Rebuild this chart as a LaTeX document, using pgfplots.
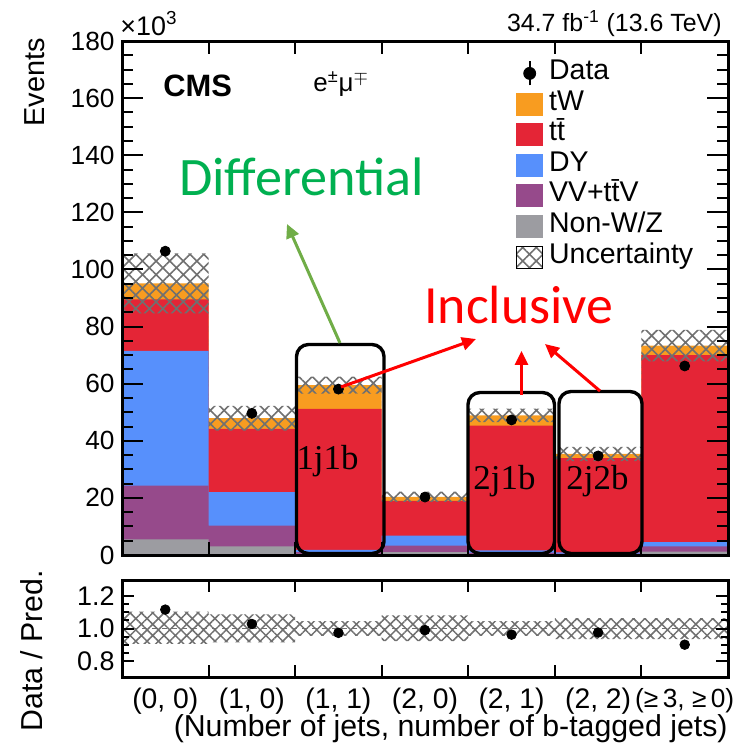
\documentclass[border=0pt]{standalone}
\usepackage{pgfplots}
\pgfplotsset{compat=1.18}
\usetikzlibrary{patterns.meta,arrows.meta}
\usepackage{fontspec}
\setmainfont{Liberation Sans}
\newfontfamily\carlito{Carlito}
\newfontfamily\libserif{Liberation Serif}
\definecolor{cTW}{HTML}{F89C20}
\definecolor{cTT}{HTML}{E42536}
\definecolor{cDY}{HTML}{5790FC}
\definecolor{cVV}{HTML}{964A8B}
\definecolor{cNW}{HTML}{9C9CA1}
\definecolor{cHatch}{HTML}{707070}
\definecolor{cDiffT}{HTML}{00B050}
\definecolor{cDiffA}{HTML}{70AD47}
\tikzset{hatchpat/.style={pattern={Hatch[angle=45,distance=4.8bp,line width=0.8bp]}, pattern color=cHatch},
         hatchpatr/.style={pattern={Hatch[angle=45,distance=4bp,line width=0.75bp]}, pattern color=cHatch}}
\begin{document}
\begin{tikzpicture}
\useasboundingbox (0,0) rectangle (368.5bp,-371.5bp);
% ---------------- main panel ----------------
\begin{axis}[
  at={(61bp,-277.5bp)}, anchor=south west, scale only axis,
  width=303bp, height=257bp,
  xmin=0, xmax=7, ymin=0, ymax=180,
  axis on top,
  axis line style={line width=1.5bp},
  tick style={black, line width=1bp},
  tick align=inside,
  xtick=\empty,
  extra x ticks={1,2,3,4,5,6}, extra x tick labels={},
  extra x tick style={major tick length=6.5bp},
  ytick={0,20,...,180}, minor y tick num=3,
  major tick length=10.5bp, minor tick length=5.5bp,
  /pgf/number format/assume math mode=true,
  tick label style={font=\fontsize{13.2}{14}\selectfont},
  yticklabel style={inner sep=0pt, xshift=-3.5bp},
  label style={font=\fontsize{14.5}{16}\selectfont},
  ylabel={Events},
  ylabel style={at={(axis description cs:-0.127,1.006)}, anchor=south east, inner sep=0pt},
  legend style={at={(rel axis cs:0.650,0.9675)}, anchor=north west, draw=none, fill=none,
    font=\fontsize{14.3}{15}\selectfont, inner sep=0pt, column sep=3bp, row sep=0pt,
    nodes={inner sep=0pt, text height=10.7bp, text depth=4.6bp}},
  legend cell align=left,
]
\addlegendimage{legend image code/.code={\draw[black, line width=1bp] (6.5bp,-6bp)--(6.5bp,6bp); \fill[black] (6.5bp,0bp) circle (3bp);}}
\addlegendentry{Data}
\addlegendimage{legend image code/.code={\fill[cTW] (0bp,-5.5bp) rectangle (13bp,5.5bp);}}
\addlegendentry{tW}
\addlegendimage{legend image code/.code={\fill[cTT] (0bp,-5.5bp) rectangle (13bp,5.5bp);}}
\addlegendentry{t\={t}}
\addlegendimage{legend image code/.code={\fill[cDY] (0bp,-5.5bp) rectangle (13bp,5.5bp);}}
\addlegendentry{DY}
\addlegendimage{legend image code/.code={\fill[cVV] (0bp,-5.5bp) rectangle (13bp,5.5bp);}}
\addlegendentry{VV+t\={t}V}
\addlegendimage{legend image code/.code={\fill[cNW] (0bp,-5.5bp) rectangle (13bp,5.5bp);}}
\addlegendentry{Non-W/Z}
\addlegendimage{legend image code/.code={\fill[hatchpat] (0bp,-5.5bp) rectangle (13bp,5.5bp);}}
\addlegendentry{Uncertainty}
% cumulative stacks (tops), per bin
\addplot[const plot, fill=cTW, draw=none, forget plot] coordinates {(0,95.1)(1,47.9)(2,59.5)(3,20.4)(4,48.9)(5,35.4)(6,73.3)(7,73.3)} \closedcycle;
\addplot[const plot, fill=cTT, draw=none, forget plot] coordinates {(0,89.5)(1,44.2)(2,51.2)(3,19.0)(4,45.3)(5,33.9)(6,70.0)(7,70.0)} \closedcycle;
\addplot[const plot, fill=cDY, draw=none, forget plot] coordinates {(0,71.5)(1,22.0)(2,1.8)(3,6.8)(4,1.6)(5,0.9)(6,4.5)(7,4.5)} \closedcycle;
\addplot[const plot, fill=cVV, draw=none, forget plot] coordinates {(0,24.3)(1,10.3)(2,1.0)(3,3.3)(4,0.8)(5,0.5)(6,3.0)(7,3.0)} \closedcycle;
\addplot[const plot, fill=cNW, draw=none, forget plot] coordinates {(0,5.5)(1,3.0)(2,0.4)(3,1.0)(4,0.3)(5,0.2)(6,1.2)(7,1.2)} \closedcycle;
% uncertainty band (upper edge left to right, lower edge right to left)
\addplot[hatchpat, draw=none, forget plot] coordinates {(0,105.6)(1,105.6)(1,52.2)(2,52.2)(2,62.5)(3,62.5)(3,22.2)(4,22.2)(4,51.3)(5,51.3)(5,37.9)(6,37.9)(6,78.8)(7,78.8)
 (7,67.8)(6,67.8)(6,32.9)(5,32.9)(5,46.5)(4,46.5)(4,18.6)(3,18.6)(3,56.5)(2,56.5)(2,43.6)(1,43.6)(1,84.6)(0,84.6)} -- cycle;
% data
\addplot[only marks, mark=*, mark size=2.5bp, black, forget plot] coordinates {(0.5,106.4)(1.5,49.6)(2.5,58.1)(3.5,20.3)(4.5,47.3)(5.5,34.7)(6.5,66.2)};
\end{axis}
% ---------------- ratio panel ----------------
\begin{axis}[
  at={(61bp,-338.5bp)}, anchor=south west, scale only axis,
  width=303bp, height=48.5bp,
  xmin=0, xmax=7, ymin=0.7, ymax=1.3,
  axis on top,
  axis line style={line width=1.5bp},
  tick style={black, line width=1bp},
  tick align=inside,
  xtick={1,2,3,4,5,6}, xticklabels={},
  extra x ticks={0.5,1.5,2.5,3.5,4.5,5.5,6.5},
  extra x tick labels={{(0, 0)},{(1, 0)},{(1, 1)},{(2, 0)},{(2, 1)},{(2, 2)},{\fontsize{13.2}{14}\selectfont(≥\,3, ≥\,0)}},
  extra x tick style={major tick length=0pt},
  ytick={0.8,1.0,1.2}, yticklabels={0.8,1.0,1.2}, minor y tick num=3,
  major tick length=5.8bp, minor tick length=3.3bp,
  tick label style={font=\fontsize{14.2}{15}\selectfont},
  xticklabel style={inner sep=0pt, yshift=-5.5bp},
  yticklabel style={inner sep=0pt, xshift=-3.5bp, font=\fontsize{13.5}{15}\selectfont},
  label style={font=\fontsize{15.2}{17}\selectfont},
  xlabel={(Number of jets, number of b-tagged jets)},
  xlabel style={at={(axis description cs:1,-0.61)}, anchor=base east, inner sep=0pt},
  ylabel={Data / Pred.},
  ylabel style={at={(axis description cs:-0.13,0.27)}, anchor=south, inner sep=0pt},
]
\addplot[hatchpatr, draw=none] coordinates {(0,1.105)(1,1.105)(1,1.088)(2,1.088)(2,1.045)(3,1.045)(3,1.082)(4,1.082)(4,1.045)(5,1.045)(5,1.065)(6,1.065)(6,1.065)(7,1.065)
 (7,0.935)(6,0.935)(6,0.935)(5,0.935)(5,0.955)(4,0.955)(4,0.922)(3,0.922)(3,0.955)(2,0.955)(2,0.915)(1,0.915)(1,0.905)(0,0.905)} -- cycle;
\addplot[cHatch, line width=0.6bp, dash pattern=on 2.5bp off 2.5bp] coordinates {(0,1)(7,1)};
\addplot[only marks, mark=*, mark size=2.4bp, black] coordinates {(0.5,1.117)(1.5,1.028)(2.5,0.973)(3.5,0.99)(4.5,0.962)(5.5,0.975)(6.5,0.90)};
\end{axis}
% ---------------- texts and annotations (pixel units) ----------------
\begin{scope}[x=0.5bp, y=-0.5bp]
\node[anchor=base west, inner sep=0pt, font=\fontsize{13.5}{15}\selectfont] at (120,35) {×10\textsuperscript{3}};
\node[anchor=base east, inner sep=0pt, font=\fontsize{12.5}{14}\selectfont] at (722,31.5) {34.7 fb\textsuperscript{-1} (13.6 TeV)};
\node[anchor=base west, inner sep=0pt, font=\bfseries\fontsize{15.5}{17}\selectfont] at (163,96.5) {CMS};
\node[anchor=base west, inner sep=0pt, font=\fontsize{13}{15}\selectfont] at (313,91.5) {e\textsuperscript{±}μ\textsuperscript{$\mp$}};
\draw[line width=1.7bp, rounded corners=6bp] (296.5,344.5) rectangle (384,553.5);
\draw[line width=1.7bp, rounded corners=6bp] (468,392.5) rectangle (554.5,553.5);
\draw[line width=1.7bp, rounded corners=6bp] (559,391.5) rectangle (642,553.5);
\node[anchor=base, inner sep=0pt, font=\libserif\fontsize{17.5}{20}\selectfont] at (327.5,470) {1j1b};
\node[anchor=base, inner sep=0pt, font=\libserif\fontsize{17.5}{20}\selectfont] at (504.5,490) {2j1b};
\node[anchor=base, inner sep=0pt, font=\libserif\fontsize{17.5}{20}\selectfont] at (597.5,490) {2j2b};
\node[anchor=base, inner sep=0pt, text=cDiffT, font=\carlito\fontsize{27.2}{30}\selectfont] at (301.5,196) {Differential};
\node[anchor=base, inner sep=0pt, text=red, font=\carlito\fontsize{27}{30}\selectfont] at (519,324) {Inclusive};
\draw[cDiffA, line width=1.5bp, -{Triangle[length=7bp,width=6.5bp]}] (340,343) -- (287,224);
\draw[red, line width=1.5bp, -{Triangle[length=7bp,width=6.5bp]}] (341,387) -- (476,339);
\draw[red, line width=1.5bp, -{Triangle[length=7bp,width=6.5bp]}] (521.5,395) -- (521.5,351);
\draw[red, line width=1.5bp, -{Triangle[length=7bp,width=6.5bp]}] (600,391) -- (545,344);
\end{scope}
\end{tikzpicture}
\end{document}
